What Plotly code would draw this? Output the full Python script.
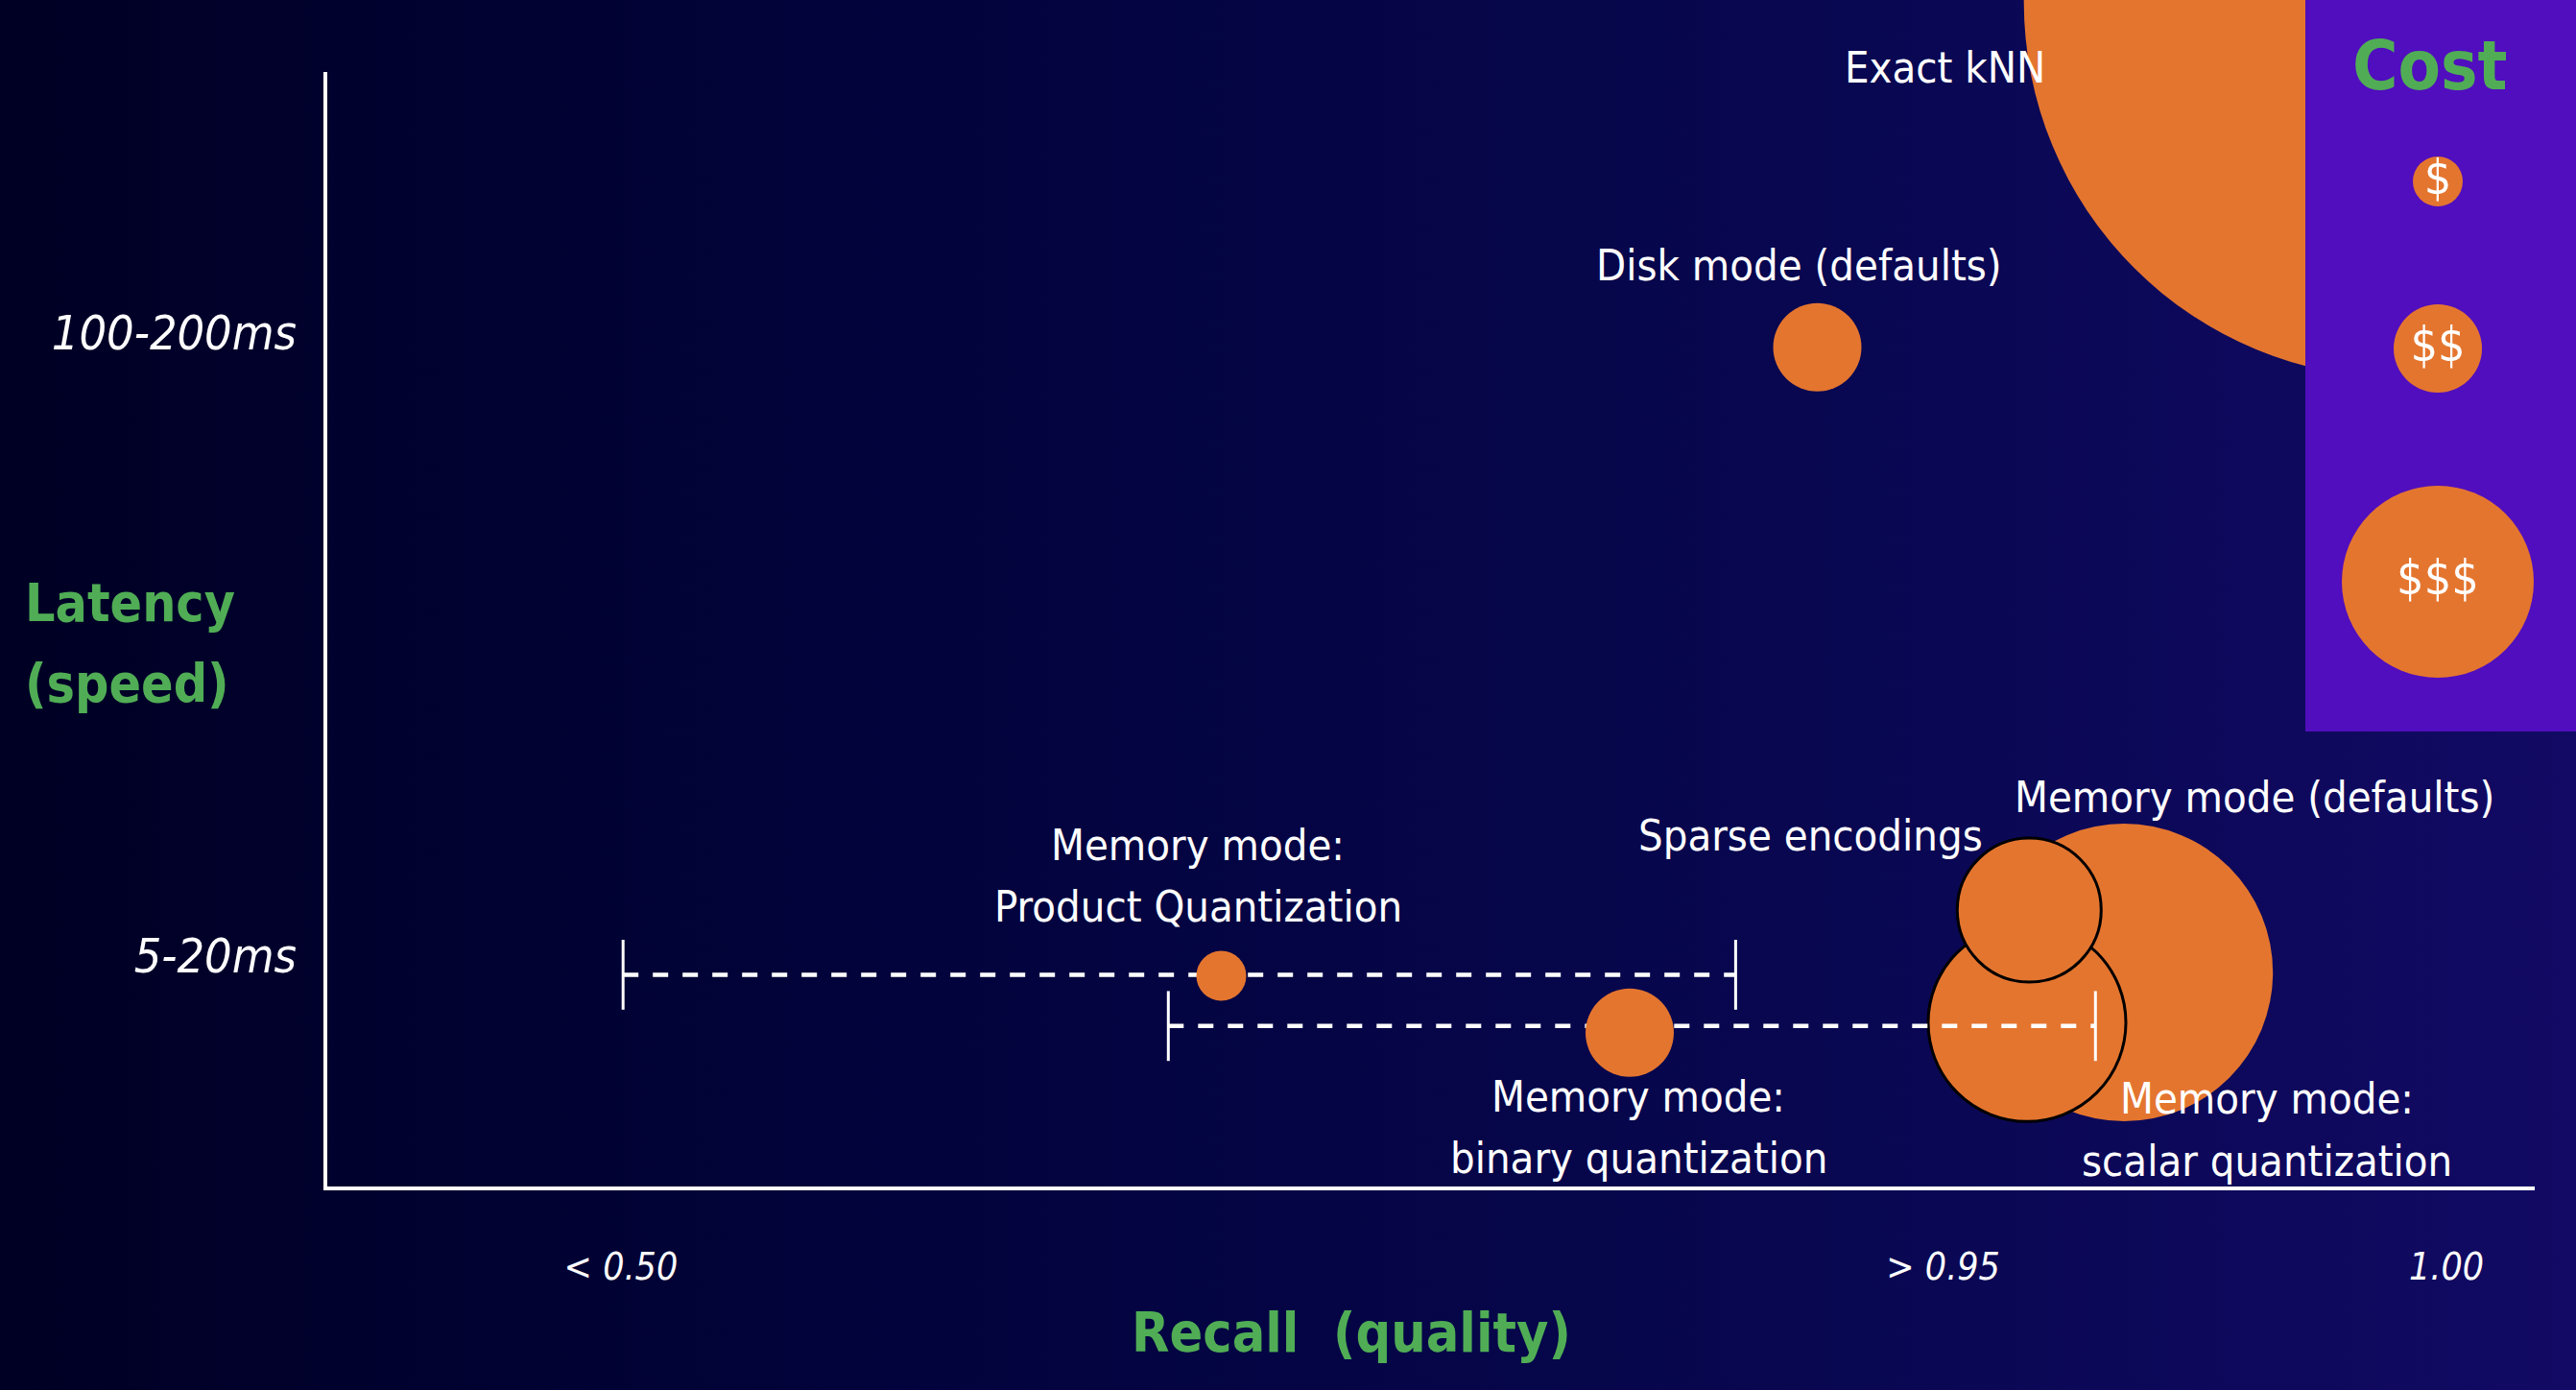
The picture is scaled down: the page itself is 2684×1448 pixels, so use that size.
import plotly.graph_objects as go

# ------------------------------------------------------------------ data
# x = recall position (0-100 chart units), y = latency position (0-100 chart units)
bubble_names = ["Memory mode (defaults)", "Memory mode: scalar quantization",
                "Sparse encodings", "Memory mode: Product Quantization",
                "Memory mode: binary quantization", "Disk mode (defaults)"]
bubble_recall = [81.4, 77.0, 77.1, 40.5, 59.0, 67.5]
bubble_latency = [19.2, 14.7, 24.8, 18.9, 13.8, 75.3]
bubble_cost = [310, 206, 150, 52, 92, 92]          # bubble diameter ~ cost

exact_name = "Exact kNN"
exact_recall = [93.9]
exact_latency = [106.3]
exact_cost = [784]

range_names = ["Product Quantization", "binary quantization"]
range_low = [13.4, 38.1]
range_high = [63.8, 80.1]
range_latency = [19.0, 14.4]

x_tickvals = [13.3, 73.2, 96.0]
x_ticktext = ["< 0.50", "> 0.95", "1.00"]
y_tickvals = [20.7, 76.6]
y_ticktext = ["5-20ms", "100-200ms"]

cost_levels = ["$", "$$", "$$$"]
cost_sizes = [52, 92, 200]

# ------------------------------------------------------------------ geometry / style
W, H = 2684, 1448
AX_L, AX_R, AX_T, AX_B = 341, 2641, 75, 1236
XR = (0, 100)
YR = (0, 100)
PX_X = (AX_R - AX_L) / (XR[1] - XR[0])
PX_Y = (AX_B - AX_T) / (YR[1] - YR[0])


def px2x(px):
    return XR[0] + (px - AX_L) / PX_X


def py2y(py):
    return YR[0] + (AX_B - py) / PX_Y


ORANGE = "#e4752f"
GREEN = "#50ad55"
PANEL = "#500ebe"
FONT = "Liberation Sans Narrow, Arial Narrow, DejaVu Sans Condensed, sans-serif"
LBL = 45

fig = go.Figure()

# full-canvas helper subplot (xy): background, Exact kNN, cost panel
cx0, cx1 = px2x(0), px2x(W)
cy0, cy1 = py2y(H), py2y(0)
fig.add_trace(go.Scatter(
    x=[cx0, cx1, cx1, cx0, cx0], y=[cy0, cy0, cy1, cy1, cy0],
    mode="lines", fill="toself", line=dict(width=0),
    fillgradient=dict(type="horizontal",
                      colorscale=[[0, "#000024"], [0.35, "#02033c"],
                                  [0.7, "#080750"], [1, "#120a64"]]),
    hoverinfo="skip", showlegend=False, xaxis="x", yaxis="y"))

fig.add_trace(go.Scatter(
    x=exact_recall, y=exact_latency, mode="markers", name=exact_name,
    marker=dict(size=exact_cost, sizemode="diameter", color=ORANGE, opacity=1,
                line=dict(width=0)),
    cliponaxis=True, showlegend=False, xaxis="x", yaxis="y"))

# cost panel
p0, p1 = px2x(2402), px2x(W)
q0, q1 = py2y(762), py2y(0)
fig.add_trace(go.Scatter(
    x=[p0, p1, p1, p0, p0], y=[q0, q0, q1, q1, q0],
    mode="lines", fill="toself", fillcolor=PANEL, line=dict(width=0),
    hoverinfo="skip", showlegend=False, xaxis="x", yaxis="y"))

legend_py = [189, 363, 606]
fig.add_trace(go.Scatter(
    x=[px2x(2540)] * len(cost_levels), y=[py2y(v) for v in legend_py],
    mode="markers+text", text=cost_levels, textposition="middle center",
    textfont=dict(family=FONT, size=50, color="white"),
    marker=dict(size=cost_sizes, sizemode="diameter", color=ORANGE, opacity=1,
                line=dict(width=0)),
    showlegend=False, cliponaxis=False, xaxis="x", yaxis="y"))

# main subplot (x2y2)
for i in [0, 1, 2]:
    outline = dict(width=3, color="black") if i in (1, 2) else dict(width=0)
    fig.add_trace(go.Scatter(
        x=[bubble_recall[i]], y=[bubble_latency[i]], mode="markers", name=bubble_names[i],
        marker=dict(size=[bubble_cost[i]], sizemode="diameter", color=ORANGE, opacity=1,
                    line=outline),
        cliponaxis=False, showlegend=False, xaxis="x2", yaxis="y2"))

for j in range(len(range_names)):
    fig.add_trace(go.Scatter(
        x=[range_low[j], range_high[j]], y=[range_latency[j]] * 2,
        mode="lines+markers", name=range_names[j],
        line=dict(color="white", width=4.5, dash="16px,15px"),
        marker=dict(symbol="line-ns", size=52, line=dict(width=3, color="white")),
        cliponaxis=False, showlegend=False, xaxis="x2", yaxis="y2"))

for i in [3, 4, 5]:
    fig.add_trace(go.Scatter(
        x=[bubble_recall[i]], y=[bubble_latency[i]], mode="markers", name=bubble_names[i],
        marker=dict(size=[bubble_cost[i]], sizemode="diameter", color=ORANGE, opacity=1,
                    line=dict(width=0)),
        cliponaxis=False, showlegend=False, xaxis="x2", yaxis="y2"))

# labels (one annotation per text line)
labels = [
    ("Exact kNN", 2027, 70),
    ("Disk mode (defaults)", 1874, 276),
    ("Memory mode:", 1248, 880),
    ("Product Quantization", 1248, 944),
    ("Sparse encodings", 1886, 870),
    ("Memory mode (defaults)", 2349, 830),
    ("Memory mode:", 1707, 1142),
    ("binary quantization", 1707, 1206),
    ("Memory mode:", 2362, 1144),
    ("scalar quantization", 2362, 1209),
]
ann = []
for t, lx, ly in labels:
    ann.append(dict(text=t, x=lx / W, y=1 - ly / H, xref="paper", yref="paper",
                    xanchor="center", yanchor="middle", showarrow=False,
                    font=dict(family=FONT, size=LBL, color="white")))

ann.append(dict(text="Cost", x=2532 / W, y=1 - 68 / H, xref="paper", yref="paper",
                xanchor="center", yanchor="middle", showarrow=False,
                font=dict(family=FONT, size=72, color=GREEN, weight="bold")))
for t, ly in [("Latency", 628), ("(speed)", 712)]:
    ann.append(dict(text=t, x=24 / W, y=1 - ly / H, xref="paper", yref="paper",
                    xanchor="left", yanchor="middle", align="left", showarrow=False,
                    font=dict(family=FONT, size=55, color=GREEN, weight="bold")))
ann.append(dict(text="Recall  (quality)", x=1408 / W, y=1 - 1388 / H, xref="paper", yref="paper",
                xanchor="center", yanchor="middle", showarrow=False,
                font=dict(family=FONT, size=57, color=GREEN, weight="bold")))

fig.update_layout(
    width=W, height=H,
    margin=dict(l=0, r=0, t=0, b=0),
    paper_bgcolor="#00002a", plot_bgcolor="rgba(0,0,0,0)",
    showlegend=False,
    annotations=ann,
    xaxis=dict(domain=[0, 1], range=[cx0, cx1], visible=False, fixedrange=True),
    yaxis=dict(domain=[0, 1], range=[cy0, cy1], visible=False, fixedrange=True),
    xaxis2=dict(domain=[AX_L / W, AX_R / W], range=list(XR), anchor="y2",
                showline=True, linecolor="white", linewidth=4, showgrid=False,
                zeroline=False, ticks="", tickvals=x_tickvals, ticktext=x_ticktext,
                ticklabelstandoff=46,
                tickfont=dict(family=FONT, size=39, color="white", style="italic")),
    yaxis2=dict(domain=[1 - AX_B / H, 1 - AX_T / H], range=list(YR), anchor="x2",
                showline=True, linecolor="white", linewidth=4, showgrid=False,
                zeroline=False, ticks="", tickvals=y_tickvals, ticktext=y_ticktext,
                ticklabelstandoff=18,
                tickfont=dict(family=FONT, size=50, color="white", style="italic")),
)

fig.write_html("out.html", post_script="document.body.style.margin='0';",
               config={"displayModeBar": False})
